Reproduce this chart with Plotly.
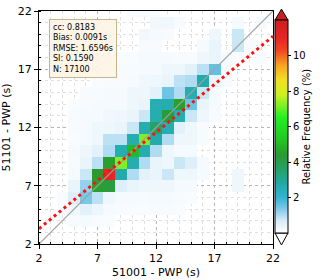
import plotly.graph_objects as go

# bin centres (seconds)
x_bins = list(range(2, 23))
y_bins = list(range(2, 23))

# relative frequency (%) per bin, one list per y-bin (x = 2..22)
row_y02 = [0]*21
row_y03 = [0]*21
row_y04 = [0, 0, 0, .15, .2, .15, .1, 0, 0, 0, 0, 0, 0, 0, 0, 0, 0, 0, 0, 0, 0]
row_y05 = [0, 0, .1, .3, .5, .35, .2, .15, .1, .1, .15, .15, .1, 0, 0, 0, 0, 0, 0, 0, 0]
row_y06 = [0, 0, .1, .6, 1.4, .9, .3, .2, .2, .15, .2, .2, .15, .1, 0, 0, 0, 0, 0, 0, 0]
row_y07 = [0, 0, 0, .4, 1.2, 4.5, 4.2, .6, .4, .3, .3, .3, .2, .2, 0, 0, 0, .3, 0, 0, 0]
row_y08 = [0, 0, 0, .2, .8, 4.4, 11.0, 2.7, 1.0, .5, .4, .8, .3, .3, .2, 0, 0, .3, 0, 0, 0]
row_y09 = [0, 0, 0, .15, .4, .9, 4.5, 7.2, 2.6, 1.0, .4, .3, .8, .6, .2, 0, 0, 0, 0, 0, 0]
row_y10 = [0, 0, 0, .2, .3, .5, 1.0, 2.6, 5.0, 2.6, 1.0, .3, .2, .2, 0, 0, 0, 0, 0, 0, 0]
row_y11 = [0, 0, 0, .1, .2, .3, .9, .9, 2.6, 7.2, 2.7, 1.0, .3, .3, .15, 0, 0, 0, 0, 0, 0]
row_y12 = [0, 0, 0, .15, .2, .3, .3, .4, .8, 2.6, 3.6, 2.6, .5, .3, .15, 0, 0, 0, 0, 0, 0]
row_y13 = [0, 0, 0, .15, .2, .2, .25, .3, .4, .8, 2.6, 4.3, 2.6, .8, .3, .15, 0, 0, 0, 0, 0]
row_y14 = [0, 0, 0, .1, .15, .2, .2, .2, .3, .4, 2.5, 2.6, 4.5, 1.5, .4, .2, 0, 0, 0, 0, 0]
row_y15 = [0, 0, 0, 0, .15, .15, .2, .2, .3, .3, .5, 1.5, 1.0, 2.6, .8, .2, 0, 0, 0, 0, 0]
row_y16 = [0, 0, 0, 0, 0, .1, .15, .15, .2, .25, .3, .4, .9, 1.0, 2.7, .4, .15, 0, 0, 0, 0]
row_y17 = [0, 0, 0, 0, 0, 0, .1, .15, .15, .2, .2, .3, .3, .5, .9, 1.6, .2, 0, 0, 0, 0]
row_y18 = [0, 0, 0, 0, 0, 0, 0, .1, .1, .2, .2, .2, .15, .15, .3, .4, .2, .1, 0, .15, 0]
row_y19 = [0, 0, 0, 0, 0, 0, 0, 0, 0, .15, .15, 0, 0, 0, .2, .4, 0, .8, .15, 0, 0]
row_y20 = [0, 0, 0, 0, 0, 0, 0, 0, 0, .25, .2, .15, 0, 0, 0, .3, 0, .8, 0, 0, 0]
row_y21 = [0, 0, 0, 0, 0, 0, 0, 0, 0, 0, .25, .25, .15, 0, 0, 0, 0, .2, 0, .2, 0]
row_y22 = [0, 0, 0, 0, 0, 0, 0, 0, .15, .15, .1, 0, 0, 0, 0, 0, 0, 0, 0, 0, 0]

freq_rows = [row_y02, row_y03, row_y04, row_y05, row_y06, row_y07, row_y08,
             row_y09, row_y10, row_y11, row_y12, row_y13, row_y14, row_y15,
             row_y16, row_y17, row_y18, row_y19, row_y20, row_y21, row_y22]

# linear fit and stats
fit_slope = 0.826
fit_intercept = 1.66
axis_range = [2, 22]
tick_vals = [2, 7, 12, 17, 22]
cbar_ticks = [2, 4, 6, 8, 10]
stats_lines = ["cc: 0.8183", "Bias: 0.0091s", "RMSE: 1.6596s", "SI: 0.1590", "N: 17100"]

z = [[(v if v > 0 else None) for v in row] for row in freq_rows]

colorscale = [
    [0.0, "#ffffff"],
    [0.7/12, "#d8ecf8"],
    [1.3/12, "#86cbec"],
    [2.0/12, "#33b4d2"],
    [2.8/12, "#20aaa4"],
    [3.6/12, "#25a266"],
    [4.4/12, "#2a9a30"],
    [5.3/12, "#22c822"],
    [6.5/12, "#22f022"],
    [7.8/12, "#d0f022"],
    [8.6/12, "#f2e022"],
    [9.4/12, "#f8a822"],
    [10.3/12, "#f04422"],
    [11.0/12, "#e82424"],
    [1.0, "#cc2020"],
]

FONT = "DejaVu Sans"
fig = go.Figure()
fig.add_trace(go.Heatmap(
    x=x_bins, y=y_bins, z=z, zmin=0, zmax=12, colorscale=colorscale,
    hoverongaps=False,
    colorbar=dict(
        x=1.0085, xanchor="left", xpad=0, ypad=0,
        y=0.504, yanchor="middle", len=0.914, lenmode="fraction",
        thickness=13, thicknessmode="pixels",
        outlinewidth=1, outlinecolor="black",
        tickvals=cbar_ticks, ticks="outside", ticklen=3, tickcolor="black",
        tickfont=dict(family=FONT, size=10, color="black"),
        title=dict(text="Relative Frequency (%)", side="right",
                   font=dict(family=FONT, size=10, color="black")),
    ),
))

fig.add_trace(go.Scatter(
    x=axis_range, y=axis_range, mode="lines",
    line=dict(color="#a0a0a0", width=1.2), showlegend=False, hoverinfo="skip"))

fit_x = axis_range
fit_y = [fit_slope * v + fit_intercept for v in fit_x]
fig.add_trace(go.Scatter(
    x=fit_x, y=fit_y, mode="lines",
    line=dict(color="#ff1010", width=3, dash="3px,3.4px"), showlegend=False, hoverinfo="skip"))

axis_common = dict(
    range=axis_range, tickvals=tick_vals, showline=True, linecolor="black",
    linewidth=1, mirror=True, ticks="outside", ticklen=4, tickcolor="black",
    tickfont=dict(family=FONT, size=11, color="black"),
    showgrid=True, gridcolor="#b5b5b5", griddash="dot", gridwidth=1,
    zeroline=False, automargin=False,
    minor=dict(dtick=1, showgrid=True, gridcolor="#e0e0e0", griddash="dot",
               gridwidth=1, ticks="inside", ticklen=2, tickcolor="black"),
)
fig.update_xaxes(**axis_common,
                 title=dict(text="51001 - PWP (s)", font=dict(family=FONT, size=11, color="black"), standoff=4))
fig.update_yaxes(**axis_common,
                 title=dict(text="51101 - PWP (s)", font=dict(family=FONT, size=11, color="black"), standoff=4))

fig.add_annotation(
    xref="paper", yref="paper", x=0.043, y=0.966, xanchor="left", yanchor="top",
    text="<br>".join(stats_lines), align="left", showarrow=False,
    font=dict(family=FONT, size=8, color="black"),
    bgcolor="rgba(253,245,230,0.9)", bordercolor="#c8b48c", borderwidth=1, borderpad=3,
)

# colorbar extension triangles
fig.add_shape(type="path", xref="paper", yref="paper",
              path="M 1.0085,0.961 L 1.0641,0.961 L 1.0363,1.008 Z",
              fillcolor="#cc2020", line=dict(color="black", width=1))
fig.add_shape(type="path", xref="paper", yref="paper",
              path="M 1.0085,0.047 L 1.0641,0.047 L 1.0363,-0.004 Z",
              fillcolor="#ffffff", line=dict(color="black", width=1))

fig.update_layout(
    width=327, height=280, margin=dict(l=39, r=54, t=11, b=36, autoexpand=False),
    paper_bgcolor="white", plot_bgcolor="white",
    font=dict(family=FONT, color="black"), showlegend=False,
)
fig.write_html("out.html", config={"displayModeBar": False},
               post_script="document.body.style.margin='0';document.body.style.overflow='hidden';")
